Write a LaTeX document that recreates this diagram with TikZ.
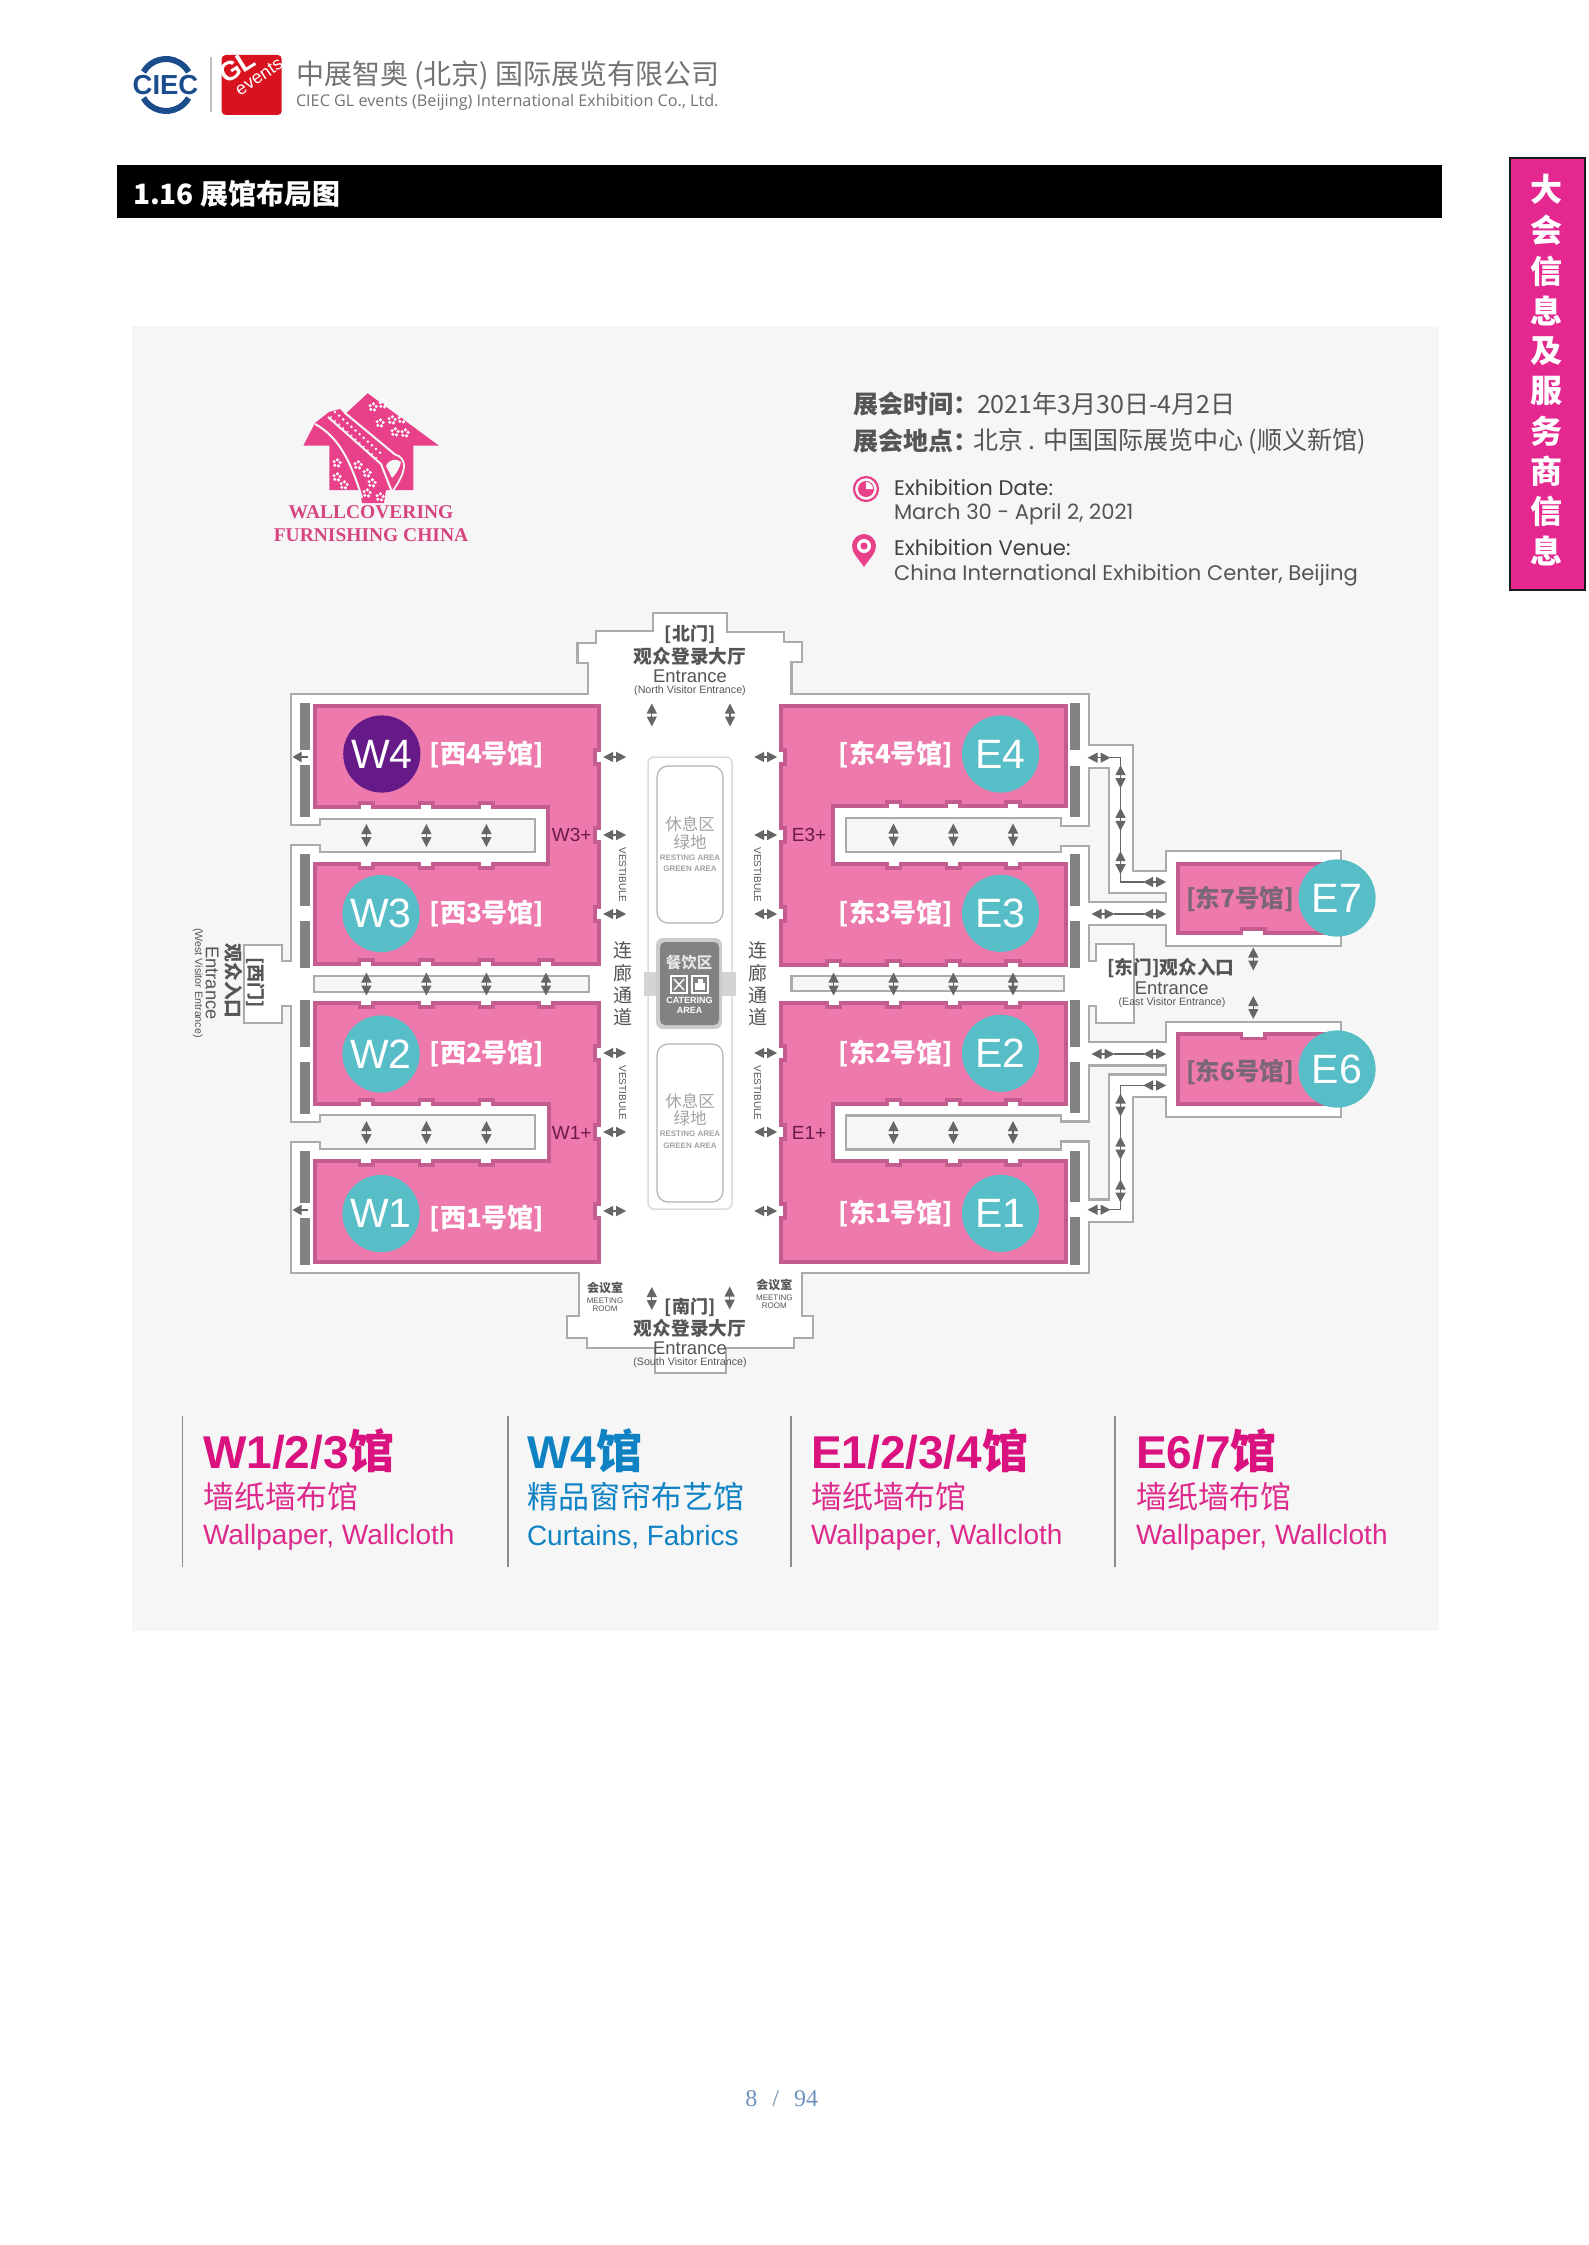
\documentclass[tikz,border=0pt]{standalone}
\usepackage{fontspec}
\setmainfont{Liberation Sans}
\newfontfamily\cjk{Noto Sans CJK SC}
\newfontfamily\pop{Poppins}
\newfontfamily\osans{Open Sans}
\newfontfamily\lserif{Liberation Serif}
\usetikzlibrary{arrows.meta,calc}
\definecolor{panelc}{HTML}{F6F6F6}
\definecolor{wallc}{HTML}{ABABAB}
\definecolor{hallc}{HTML}{EE79AC}
\definecolor{edgec}{HTML}{C45C8F}
\definecolor{barc}{HTML}{828282}
\definecolor{arrc}{HTML}{666666}
\definecolor{tealc}{HTML}{57BEC7}
\definecolor{purpc}{HTML}{651A87}
\definecolor{txtc}{HTML}{555555}
\definecolor{restc}{HTML}{A3A3A3}
\definecolor{logoc}{HTML}{E8418A}
\definecolor{logot}{HTML}{D6457F}
\definecolor{tabc}{HTML}{E5288F}
\definecolor{legp}{HTML}{D9127F}
\definecolor{legb}{HTML}{0F82C4}
\definecolor{maroon}{HTML}{6B1A4E}
\definecolor{navyc}{HTML}{1B4C8C}
\definecolor{redc}{HTML}{D8121F}
\definecolor{pagec}{HTML}{6F93BA}
\definecolor{e7txt}{HTML}{7A6674}
\newcommand{\fs}[1]{\fontsize{#1}{#1}\selectfont}
\tikzset{
  txt/.style={inner sep=0pt,outer sep=0pt},
  wall/.style={draw=wallc,line width=2.2pt,line join=miter},
  hall/.style={fill=hallc,draw=edgec,line width=4pt,line join=miter},
  darr/.style={{Triangle[length=10pt,width=10pt]}-{Triangle[length=10pt,width=10pt]},line width=1.3pt,draw=arrc,shorten >=0pt,shorten <=0pt},
  sarr/.style={-{Triangle[length=9pt,width=10pt]},line width=2pt,draw=arrc},
  route/.style={draw=arrc,line width=1.2pt},
  badge/.style={circle,minimum size=77.2pt,inner sep=0pt,text=white,font=\fs{41}},
  hlabel/.style={txt,text=white,font=\cjk\bfseries\fs{26}},
  hlabeld/.style={txt,text=e7txt,font=\cjk\bfseries\fs{24.5}},
  heading/.style={txt,anchor=west,font=\bfseries\fs{46}},
  sublab/.style={txt,anchor=west,font=\cjk\fs{31}},
  enlab/.style={txt,anchor=west,font=\fs{28}},
  rule/.style={draw=black!45,line width=1.5pt},
  resttxt/.style={txt,text=restc},
  lobby/.style={txt,text=txtc},
  plus/.style={txt,text=maroon,font=\fs{19}},
}
\newcommand{\harr}[2]{\draw[darr] ({#1-11.5},#2) -- ({#1+11.5},#2);}
\newcommand{\varr}[2]{\draw[darr] (#1,{#2-11.5}) -- (#1,{#2+11.5});}
% door on a horizontal hall edge: x, edge y, direction into hall
\newcommand{\doorV}[3]{\fill[edgec] ({#1-8.7},#2) rectangle ({#1+8.7},{#2+#3*8});\fill[white] ({#1-5},{#2-#3*3}) rectangle ({#1+5},{#2+#3*4});}
% door on a vertical hall edge: edge x, y, direction into hall
\newcommand{\doorH}[3]{\fill[edgec] (#1,{#2-8.7}) rectangle ({#1+#3*8},{#2+8.7});\fill[white] ({#1-#3*3},{#2-5}) rectangle ({#1+#3*4},{#2+5});}
\newcommand{\flower}[2]{\foreach \a in {10,82,154,226,298}{\fill[white] ($(#1,#2)+(\a:3.2pt)$) circle[radius=1.7pt];}\fill[logoc] (#1,#2) circle[radius=1pt];}
\begin{document}
\begin{tikzpicture}[x=1pt,y=-1pt]
\useasboundingbox (0,0) rectangle (1588,2245);
\fill[white] (0,0) rectangle (1588,2245);

% ---------- page header
\draw[navyc,line width=6pt] (143.5,72) arc[start angle=150,end angle=30,radius=26pt];
\draw[navyc,line width=6pt] (143.5,98) arc[start angle=210,end angle=330,radius=26pt];
\node[txt,text=navyc,font=\bfseries\fs{27.5},fill=white,inner xsep=1pt] (ciec) at (165.5,85) {CIEC};
\draw[black!25,line width=1.5pt] (211,57) -- (211,112);
\fill[redc,rounded corners=4pt] (221.7,55) rectangle (281.7,115);
\node[txt,text=white,font=\bfseries\fs{27},rotate=32] (gl) at (237,67) {GL};
\node[txt,text=white,font=\fs{18},rotate=34] (events) at (259,77) {events};
\node[txt,anchor=west,text=black!55,font=\cjk\fs{28}] (coname) at (296,75) {中展智奥 (北京) 国际展览有限公司};
\node[txt,anchor=west,text=black!55,font=\osans\fs{16.2}] (coeng) at (296,102) {CIEC GL events (Beijing) International Exhibition Co., Ltd.};
\fill[black] (117,165) rectangle (1442,218);
\node[txt,anchor=west,text=white,font=\cjk\bfseries\fs{28}] (title) at (133,194) {1.16 展馆布局图};

% ---------- side tab
\draw[fill=tabc,draw=black!90,line width=2.5pt] (1510,158) rectangle (1585,590);
\foreach \c/\yy in {大/189,会/230,信/271,息/311,及/351,服/391,务/431,商/471,信/511,息/551}{
  \node[txt,text=white,font=\cjk\bfseries\fs{32}] at (1546,\yy) {\c};
}

% ---------- panel
\fill[panelc] (132,326) rectangle (1438.5,1631);

% ---------- fair logo
\fill[logoc] (367.7,393.3)--(439,445.7)--(413.3,445.7)--(413.3,490)--(386,490)--(384,503)--(362,503)--(360,490)--(329.3,490)--(329.3,445.7)--(303.3,445.7)--(315,423)--(329,412)--(340,409)--(345,414.3)--cycle;
\draw[panelc,line width=2pt] (345,413) -- (395,454.5);
\draw[panelc,line width=2pt] (328,417) -- (381,464) -- (392,492);
\draw[panelc,line width=2pt] (315,424) .. controls (339,437) and (351,462) .. (362,498);
\draw[panelc,line width=1.8pt] (395,454.5) .. controls (407,458) and (408,470) .. (392,492);
\fill[panelc] (386,466) .. controls (389,459) and (396,458) .. (401,462) .. controls (400,468) and (396,474) .. (392,478) -- cycle;
\foreach \i in {0,...,11}{
  \fill[white] ({335+\i*4.1},{412+\i*3.7}) circle[radius=1.4pt];
  \fill[white] ({331+\i*4.1},{417+\i*3.7}) circle[radius=1pt];
}
\flower{373}{407}\flower{383}{404}\flower{380}{423}\flower{392}{420}\flower{402}{419}\flower{395}{432}\flower{405}{433}
\flower{337}{463}\flower{337}{477}\flower{344}{485}
\flower{358}{465}\flower{367}{473}\flower{372}{483}\flower{367}{493}\flower{380}{497}
\node[txt,text=logot,font=\lserif\bfseries\fs{19.5}] (wall1) at (371,512) {WALLCOVERING};
\node[txt,text=logot,font=\lserif\bfseries\fs{19.5}] (wall2) at (371,535) {FURNISHING CHINA};

% ---------- info
\node[txt,anchor=west,text=txtc,font=\cjk\bfseries\fs{25}] (dcn) at (853,404) {展会时间：};
\node[txt,anchor=west,text=txtc,font=\cjk\fs{25}] (dcv) at (977,404) {2021年3月30日-4月2日};
\node[txt,anchor=west,text=txtc,font=\cjk\bfseries\fs{25}] (vcn) at (853,441) {展会地点：};
\node[txt,anchor=west,text=txtc,font=\cjk\fs{25}] (vcv) at (973,441) {北京 . 中国国际展览中心 (顺义新馆)};
\draw[logoc,line width=2.2pt] (866,489) circle[radius=12pt];
\fill[logoc] (866,489) circle[radius=8pt];
\fill[white] (866,489) -- (866,482) arc[start angle=90,end angle=0,radius=7pt] -- cycle;
\fill[logoc] (864,567) .. controls (858,558) and (852,553) .. (852,546) arc[start angle=180,end angle=0,radius=12pt] .. controls (876,553) and (870,558) .. (864,567) -- cycle;
\fill[white] (864,546) circle[radius=7pt];
\fill[logoc] (864,546) circle[radius=3.6pt];
\node[txt,anchor=west,text=black!75,font=\pop\fs{21.1}] (d1) at (894,487.5) {Exhibition Date:};
\node[txt,anchor=west,text=txtc,font=\pop\fs{21.1}] (d2) at (894,514.5) {March 30 - April 2, 2021};
\node[txt,anchor=west,text=black!75,font=\pop\fs{21.1}] (v1) at (894,547.5) {Exhibition Venue:};
\node[txt,anchor=west,text=txtc,font=\pop\fs{21.1}] (v2) at (894,575) {China International Exhibition Center, Beijing};

% ---------- building floor
\draw[wall,fill=white] (653,613)--(727,613)--(727,632)--(784,632)--(784,642)--(802,642)--(802,662)--(791.5,662)--(791.5,694)--(1089,694)--(1089,745)--(1132.7,745)--(1132.7,871)--(1165.7,871)--(1165.7,851)--(1341,851)--(1341,946)--(1165.7,946)--(1165.7,925)--(1089,925)--(1089,961)--(1096,961)--(1096,944)--(1134,944)--(1134,1023)--(1096,1023)--(1096,1006)--(1089,1006)--(1089,1042)--(1165.7,1042)--(1165.7,1022)--(1341,1022)--(1341,1117)--(1165.7,1117)--(1165.7,1097)--(1132.7,1097)--(1132.7,1222)--(1089,1222)--(1089,1273)--(802,1273)--(802,1316)--(813,1316)--(813,1338)--(794,1338)--(794,1348)--(726,1348)--(726,1373)--(655,1373)--(655,1348)--(587,1348)--(587,1338)--(567,1338)--(567,1316)--(579,1316)--(579,1273)--(291,1273)--(291,1142)--(320,1142)--(320,1149)--(535,1149)--(535,1115)--(320,1115)--(320,1122)--(291,1122)--(291,1006)--(282,1006)--(282,1023)--(244,1023)--(244,945)--(282,945)--(282,961)--(291,961)--(291,845)--(320,845)--(320,852)--(535,852)--(535,819)--(320,819)--(320,825)--(291,825)--(291,694)--(588,694)--(588,663)--(577.5,663)--(577.5,643)--(596,643)--(596,631)--(653,631)--cycle;
% enclosed courts
\draw[wall,fill=panelc] (1089,768)--(1109,768)--(1109,893)--(1165.7,893)--(1165.7,902)--(1089,902)--(1089,846)--(1061,846)--(1061,852)--(846,852)--(846,818)--(1061,818)--(1061,826)--(1089,826)--cycle;
\draw[wall,fill=panelc] (1089,1199.4)--(1109,1199.4)--(1109,1074.4)--(1165.7,1074.4)--(1165.7,1065.4)--(1089,1065.4)--(1089,1121.4)--(1061,1121.4)--(1061,1115.4)--(846,1115.4)--(846,1149.4)--(1061,1149.4)--(1061,1141.4)--(1089,1141.4)--cycle;
\draw[wall,fill=panelc] (314,976) rectangle (589,992);
\draw[wall,fill=panelc] (791.5,976) rectangle (1064,991);

% ---------- halls
\draw[hall] (314.5,706)--(599.4,706)--(599.4,964.4)--(314.5,964.4)--(314.5,864)--(548,864)--(548,807)--(314.5,807)--cycle;
\draw[hall] (314.5,1003)--(599.4,1003)--(599.4,1261.5)--(314.5,1261.5)--(314.5,1161)--(549,1161)--(549,1104)--(314.5,1104)--cycle;
\draw[hall] (781.4,706)--(1066,706)--(1066,806)--(833,806)--(833,864)--(1066,864)--(1066,964.7)--(781.4,964.7)--cycle;
\draw[hall] (781.4,1003)--(1066,1003)--(1066,1104)--(833,1104)--(833,1161)--(1066,1161)--(1066,1261.5)--(781.4,1261.5)--cycle;
\draw[hall] (1178,863.7) rectangle (1325,933);
\draw[hall] (1178,1034) rectangle (1325,1104);

% ---------- doors
\foreach \x in {366.4,426.4,486.4}{\doorV{\x}{809}{-1}\doorV{\x}{862}{1}\doorV{\x}{1106}{-1}\doorV{\x}{1159}{1}}
\foreach \x in {366.4,426.4,486.4,546}{\doorV{\x}{966.4}{-1}\doorV{\x}{1001}{1}}
\foreach \x in {893.5,953.3,1013}{\doorV{\x}{808}{-1}\doorV{\x}{862}{1}\doorV{\x}{1106}{-1}\doorV{\x}{1159}{1}}
\foreach \x in {833.6,893.5,953.3,1013}{\doorV{\x}{966.7}{-1}\doorV{\x}{1001}{1}}
\foreach \y in {757,835,914,1053,1132,1211}{\doorH{601.4}{\y}{-1}\doorH{779.4}{\y}{1}}
\fill[edgec] (1240,927) rectangle (1266.7,935);\fill[white] (1243,931) rectangle (1263,938);
\fill[edgec] (1240,1032) rectangle (1266.7,1040);\fill[white] (1243,1029) rectangle (1263,1036.5);

% ---------- door columns
\foreach \a/\b in {703/750,765/816.7,854/906.4,921/967.5,1000/1047,1062/1113.6,1151/1203,1218/1264.6}{\fill[barc] (300,\a) rectangle (310,\b);}
\foreach \a/\b in {703/750,766/817,854/906,921/968,1000/1047,1062/1113,1151/1201.5,1217/1264.6}{\fill[barc] (1070,\a) rectangle (1080.4,\b);}

% ---------- centre block
\draw[black!14,line width=1.5pt,rounded corners=6pt] (648,757) rectangle (732,1209);
\fill[black!17] (644,972) rectangle (736,996);
\draw[black!30,line width=1.2pt,rounded corners=11pt,fill=white] (657,766) rectangle (723,923);
\draw[black!30,line width=1.2pt,rounded corners=11pt,fill=white] (657,1044) rectangle (723,1202);
\fill[black!20,rounded corners=7pt] (656,938) rectangle (722,1029);
\fill[barc,rounded corners=5pt] (660,942) rectangle (719,1025);
\node[txt,text=white!90!black,font=\cjk\bfseries\fs{15.5}] (cat) at (689,963) {餐饮区};
\draw[white,line width=1.2pt] (671,976) rectangle (687,993);
\draw[white,line width=1.4pt] (674,979) -- (684,990) (684,979) -- (674,990);
\draw[white,line width=1.2pt] (692,976) rectangle (708,993);
\fill[white] (695,983) rectangle (705,990);\fill[white] (698,979) rectangle (703,983);
\node[txt,text=white,font=\bfseries\fs{9}] (cat2) at (689.5,1000) {CATERING};
\node[txt,text=white,font=\bfseries\fs{9}] (cat3) at (689.5,1010) {AREA};
\node[resttxt,font=\cjk\fs{16.5}] (r1) at (690,824) {休息区};
\node[resttxt,font=\cjk\fs{16.5}] (r2) at (690,842) {绿地};
\node[resttxt,font=\bfseries\fs{8}] (r3) at (690,858) {RESTING AREA};
\node[resttxt,font=\bfseries\fs{8}] (r4) at (690,869) {GREEN AREA};
\node[resttxt,font=\cjk\fs{16.5}] (r5) at (690,1101) {休息区};
\node[resttxt,font=\cjk\fs{16.5}] (r6) at (690,1118) {绿地};
\node[resttxt,font=\bfseries\fs{8}] (r7) at (690,1134) {RESTING AREA};
\node[resttxt,font=\bfseries\fs{8}] (r8) at (690,1146) {GREEN AREA};
\foreach \xx/\nn in {622.5/a,757.5/b}{
  \foreach \c/\yy/\mm in {连/950/1,廊/973/2,通/995/3,道/1017/4}{
    \node[lobby,font=\cjk\fs{19}] (cor\nn\mm) at (\xx,\yy) {\c};
  }
  \node[lobby,font=\fs{10},rotate=-90] (ves1\nn) at (\xx,875) {VESTIBULE};
  \node[lobby,font=\fs{10},rotate=-90] (ves2\nn) at (\xx,1093) {VESTIBULE};
}

% ---------- arrows
\foreach \y in {757,835,914,1053,1132,1211}{\harr{614.7}{\y}\harr{765.7}{\y}}
\foreach \x in {366.4,426.4,486.4}{\varr{\x}{835.5}\varr{\x}{1132.5}}
\foreach \x in {366.4,426.4,486.4,546}{\varr{\x}{984}}
\foreach \x in {893.5,953.3,1013}{\varr{\x}{835}\varr{\x}{1132.5}}
\foreach \x in {833.6,893.5,953.3,1013}{\varr{\x}{984}}
\varr{651.8}{715}\varr{730}{715}\varr{651.8}{1298.5}\varr{729.7}{1298}
\coordinate (wa1) at (308,757); \coordinate (wa2) at (292.5,757);
\coordinate (wb1) at (308,1210); \coordinate (wb2) at (292.5,1210);
\draw[sarr] (wa1) -- (wa2);
\draw[sarr] (wb1) -- (wb2);
\varr{1253.3}{959}\varr{1253.3}{1007.5}
% east routes
\coordinate (ra) at (1110,757.7);\coordinate (rb) at (1120.5,757.7);\coordinate (rc) at (1120.5,882);\coordinate (rd) at (1144,882);
\draw[route] (ra) -- (rb) -- (rc) -- (rd);
\coordinate (sa) at (1110,1209.7);\coordinate (sb) at (1120.5,1209.7);\coordinate (sc) at (1120.5,1085.4);\coordinate (sd) at (1144,1085.4);
\draw[route] (sa) -- (sb) -- (sc) -- (sd);
\coordinate (ta) at (1114,914);\coordinate (tb) at (1144,914);
\draw[route] (ta) -- (tb);
\coordinate (ua) at (1114,1054);\coordinate (ub) at (1144,1054);
\draw[route] (ua) -- (ub);
\harr{1099}{757.7}\harr{1154.7}{882}\harr{1103}{914}\harr{1154.7}{914}\harr{1103}{1054}\harr{1154.7}{1054}\harr{1154.7}{1085.4}\harr{1099}{1209.7}
\foreach \y in {776.7,819.3,862.7,1105,1148,1191}{\varr{1120.5}{\y}}

% ---------- badges and hall names
\node[badge,fill=purpc] (w4) at (381.8,754) {W4};
\node[badge,fill=tealc] (w3) at (381,913.6) {W3};
\node[badge,fill=tealc] (w2) at (381,1054) {W2};
\node[badge,fill=tealc] (w1) at (381,1213.6) {W1};
\node[badge,fill=tealc] (e4) at (1000.6,754) {E4};
\node[badge,fill=tealc] (e3) at (1000.6,913.3) {E3};
\node[badge,fill=tealc] (e2) at (1000.6,1053.3) {E2};
\node[badge,fill=tealc] (e1) at (1000.6,1213.4) {E1};
\node[badge,fill=tealc] (e7) at (1337,898) {E7};
\node[badge,fill=tealc] (e6) at (1337,1069) {E6};
\node[hlabel] (lw4) at (487,755) {[西4号馆]};
\node[hlabel] (lw3) at (487,914) {[西3号馆]};
\node[hlabel] (lw2) at (487,1054) {[西2号馆]};
\node[hlabel] (lw1) at (487,1219) {[西1号馆]};
\node[hlabel] (le4) at (896,754) {[东4号馆]};
\node[hlabel] (le3) at (896,913.7) {[东3号馆]};
\node[hlabel] (le2) at (896,1053.7) {[东2号馆]};
\node[hlabel] (le1) at (896,1213) {[东1号馆]};
\node[hlabeld] (le7) at (1240,899) {[东7号馆]};
\node[hlabeld] (le6) at (1240,1072) {[东6号馆]};
\node[plus] (w3p) at (571.7,835) {W3+};
\node[plus] (w1p) at (571.7,1132.7) {W1+};
\node[plus] (e3p) at (809,835) {E3+};
\node[plus] (e1p) at (809,1132.7) {E1+};

% ---------- lobby labels
\node[lobby,font=\cjk\bfseries\fs{18}] (n1) at (690,634) {[北门]};
\node[lobby,font=\cjk\bfseries\fs{18.7}] (n2) at (690,656) {观众登录大厅};
\node[lobby,font=\fs{18.4}] (n3) at (690,676) {Entrance};
\node[lobby,font=\fs{10.7}] (n4) at (690,690.7) {(North Visitor Entrance)};
\node[lobby,font=\cjk\bfseries\fs{18}] (s1) at (690,1307) {[南门]};
\node[lobby,font=\cjk\bfseries\fs{18.7}] (s2) at (690,1328) {观众登录大厅};
\node[lobby,font=\fs{18.4}] (s3) at (690,1348) {Entrance};
\node[lobby,font=\fs{10.7}] (s4) at (690,1363) {(South Visitor Entrance)};
\node[lobby,font=\cjk\bfseries\fs{12}] (m1) at (605,1288) {会议室};
\node[lobby,font=\fs{8}] (m2) at (605,1301) {MEETING};
\node[lobby,font=\fs{8}] (m3) at (605,1309) {ROOM};
\node[lobby,font=\cjk\bfseries\fs{12}] (m4) at (774.3,1285) {会议室};
\node[lobby,font=\fs{8}] (m5) at (774.3,1297.3) {MEETING};
\node[lobby,font=\fs{8}] (m6) at (774.3,1305.7) {ROOM};
\node[lobby,font=\cjk\bfseries\fs{18},rotate=-90] (w1t) at (255.7,982.5) {[西门]};
\node[lobby,font=\cjk\bfseries\fs{18.7},rotate=-90] (w2t) at (234,981) {观众入口};
\node[lobby,font=\fs{18.4},rotate=-90] (w3t) at (212,983) {Entrance};
\node[lobby,font=\fs{10.7},rotate=-90] (w4t) at (198,983) {(West Visitor Entrance)};
\node[lobby,font=\cjk\bfseries\fs{18.7}] (e1t) at (1171,968) {[东门]观众入口};
\node[lobby,font=\fs{18.4}] (e2t) at (1171.7,988) {Entrance};
\node[lobby,font=\fs{10.7}] (e3t) at (1172,1003) {(East Visitor Entrance)};

% ---------- legend
\foreach \x in {182.4,508,791,1115}{\draw[rule] (\x,1416) -- (\x,1567);}
\node[heading,text=legp] (h1) at (203,1451) {W1/2/3{\cjk 馆}};
\node[heading,text=legb] (h2) at (527,1451) {W4{\cjk 馆}};
\node[heading,text=legp] (h3) at (811,1451) {E1/2/3/4{\cjk 馆}};
\node[heading,text=legp] (h4) at (1136,1451) {E6/7{\cjk 馆}};
\node[sublab,text=legp!90] (c1) at (203,1497) {墙纸墙布馆};
\node[sublab,text=legb] (c2) at (527,1497) {精品窗帘布艺馆};
\node[sublab,text=legp!90] (c3) at (811,1497) {墙纸墙布馆};
\node[sublab,text=legp!90] (c4) at (1136,1497) {墙纸墙布馆};
\node[enlab,text=legp!90] (g1) at (203,1537.5) {Wallpaper, Wallcloth};
\node[enlab,text=legb] (g2) at (527,1537.5) {Curtains, Fabrics};
\node[enlab,text=legp!90] (g3) at (811,1537.5) {Wallpaper, Wallcloth};
\node[enlab,text=legp!90] (g4) at (1136,1537.5) {Wallpaper, Wallcloth};

% ---------- page number
\node[txt,text=pagec,font=\lserif\fs{24}] (pageno) at (781.8,2099) {8\hspace{15pt}/\hspace{15pt}94};
\end{tikzpicture}
\end{document}
